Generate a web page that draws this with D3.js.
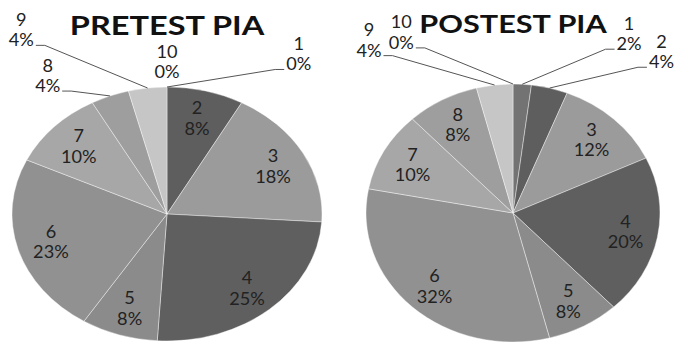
<!DOCTYPE html>
<html>
<head>
<meta charset="utf-8">
<script src="https://cdn.jsdelivr.net/npm/d3@7"></script>
<style>
  html, body { margin: 0; padding: 0; background: #fff; }
  svg { display: block; }
</style>
</head>
<body>
<svg id="chart" width="676" height="343"></svg>
<script>
// Score categories and the share (%) of respondents in each
const categories = ["1", "2", "3", "4", "5", "6", "7", "8", "9", "10"];
const pretestValues = [0, 8, 18, 25, 8, 23, 10, 4, 4, 0];
const posttestValues = [2, 4, 12, 20, 8, 32, 10, 8, 4, 0];
const chartTitles = ["PRETEST PIA", "POSTEST PIA"];

// Grey shade for each category
const sliceColors = ["#737373", "#5e5e5e", "#9b9b9b", "#5f5f5f", "#8b8b8b",
                     "#919191", "#a7a7a7", "#9e9e9e", "#c6c6c6", "#bdbdbd"];
const color = d3.scaleOrdinal(categories, sliceColors);

// Layout: ellipse geometry of each pie, and where the small-slice callouts sit
// (callout offsets are in units of the pie's radii, measured from its centre)
const panels = [
  {
    title: chartTitles[0], values: pretestValues,
    cx: 167, cy: 214, rx: 155, ry: 127,
    titleY: 35, titleSize: 26,
    callouts: {
      "1":  { x: 0.85,  y: -1.26 },
      "10": { x: 0.0,   y: -1.20, leader: false },
      "9":  { x: -0.94, y: -1.45 },
      "8":  { x: -0.77, y: -1.09 }
    }
  },
  {
    title: chartTitles[1], values: posttestValues,
    cx: 513, cy: 213, rx: 147, ry: 129,
    titleY: 33, titleSize: 24.5,
    callouts: {
      "1":  { x: 0.79,  y: -1.39 },
      "2":  { x: 1.01,  y: -1.25 },
      "10": { x: -0.76, y: -1.40 },
      "9":  { x: -0.98, y: -1.34 }
    }
  }
];

const FONT = "Lato, 'Open Sans', 'DejaVu Sans', sans-serif";
const textScaleX = 1.1;     // labels are drawn slightly widened
const titleScaleX = 1.25;
const insideLabelRadius = 0.78;
const lineGap = 20.5;

const svg = d3.select("#chart");

panels.forEach(p => {
  const g = svg.append("g");
  const R = 100;
  const arcs = d3.pie().sort(null).value(d => d)(p.values);
  const arcGen = d3.arc().innerRadius(0).outerRadius(R);

  const ellipsePoint = (r, a) => [p.cx + p.rx * r * Math.sin(a), p.cy - p.ry * r * Math.cos(a)];

  // Slices (unit pie stretched into the ellipse)
  g.append("g")
    .attr("transform", `translate(${p.cx},${p.cy}) scale(${p.rx / R},${p.ry / R})`)
    .selectAll("path")
    .data(arcs.filter(a => a.value > 0))
    .join("path")
      .attr("d", arcGen)
      .attr("fill", a => color(categories[a.index]))
      .attr("stroke", "#ffffff")
      .attr("stroke-opacity", 0.5)
      .attr("stroke-width", 0.8)
      .attr("vector-effect", "non-scaling-stroke");

  // Title
  g.append("text")
    .attr("transform", `translate(${p.cx},${p.titleY}) scale(${titleScaleX},1)`)
    .attr("text-anchor", "middle")
    .attr("font-family", FONT)
    .attr("font-weight", 700)
    .attr("font-size", p.titleSize)
    .attr("fill", "#111")
    .text(p.title);

  // Data labels
  const labelLayer = g.append("g");
  const leaderLayer = g.append("g");
  arcs.forEach(a => {
    const cat = categories[a.index];
    const mid = (a.startAngle + a.endAngle) / 2;
    const co = p.callouts[cat];
    const pos = co ? [p.cx + p.rx * co.x, p.cy + p.ry * co.y] : ellipsePoint(insideLabelRadius, mid);

    const lg = labelLayer.append("g")
      .attr("transform", `translate(${pos[0]},${pos[1]}) scale(${textScaleX},1)`)
      .attr("font-family", FONT)
      .attr("font-size", 16.5)
      .attr("fill", "#222")
      .attr("text-anchor", "middle");
    lg.append("text").attr("y", -4).text(cat);
    const pct = lg.append("text").attr("y", -4 + lineGap).text(a.value + "%");

    if (co && co.leader !== false) {
      const w = pct.node().getComputedTextLength() * textScaleX;
      const dir = pos[0] > p.cx ? -1 : 1;           // side of the text facing the pie
      const x0 = pos[0] + dir * (w / 2 + 2);
      const y0 = pos[1] - 4 + lineGap - 1;
      const x1 = x0 + dir * 9;
      const end = ellipsePoint(1, mid);
      leaderLayer.append("path")
        .attr("d", `M${x0},${y0}H${x1}L${end[0]},${end[1]}`)
        .attr("fill", "none")
        .attr("stroke", "#555")
        .attr("stroke-width", 1);
    }
  });
});
</script>
</body>
</html>
